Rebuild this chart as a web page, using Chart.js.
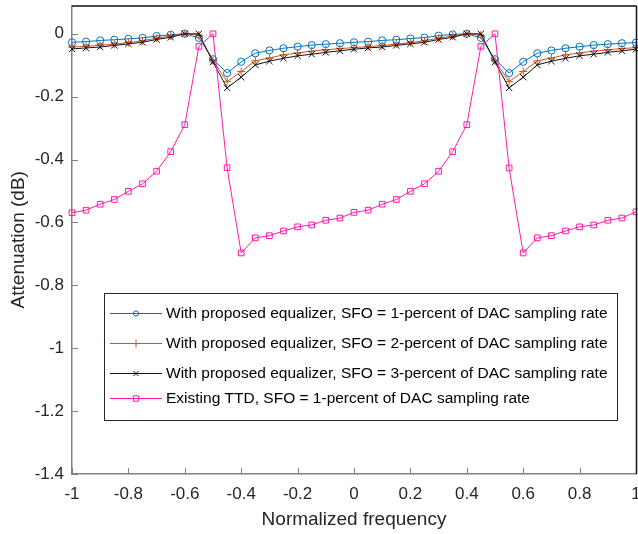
<!DOCTYPE html>
<html>
<head>
<meta charset="utf-8">
<script src="https://cdn.jsdelivr.net/npm/chart.js@4.4.0/dist/chart.umd.min.js"></script>
<style>
  html, body { margin: 0; padding: 0; background: #fff; overflow: hidden; }
  #wrap { width: 638px; height: 534px; overflow: hidden; }
  canvas { display: block; }
</style>
</head>
<body>
<div id="wrap"><canvas id="AttenuationChart" width="660" height="534"></canvas></div>
<script>
// normalized frequency, -1 .. 1 in steps of 0.05
const freq = [-1, -0.95, -0.9, -0.85, -0.8, -0.75, -0.7, -0.65, -0.6, -0.55, -0.5,
  -0.45, -0.4, -0.35, -0.3, -0.25, -0.2, -0.15, -0.1, -0.05, 0,
  0.05, 0.1, 0.15, 0.2, 0.25, 0.3, 0.35, 0.4, 0.45, 0.5,
  0.55, 0.6, 0.65, 0.7, 0.75, 0.8, 0.85, 0.9, 0.95, 1];

const sfo1 = [-0.027, -0.025, -0.021, -0.019, -0.016, -0.013, -0.007, -0.003, 0.000, -0.013, -0.081,
  -0.125, -0.089, -0.062, -0.053, -0.046, -0.041, -0.036, -0.033, -0.030, -0.027,
  -0.025, -0.021, -0.019, -0.015, -0.012, -0.006, -0.002, 0.000, -0.013, -0.081,
  -0.125, -0.089, -0.062, -0.053, -0.046, -0.041, -0.036, -0.033, -0.030, -0.028];

const sfo2 = [-0.042, -0.040, -0.036, -0.033, -0.028, -0.022, -0.014, -0.007, 0.000, -0.004, -0.086,
  -0.152, -0.120, -0.086, -0.077, -0.067, -0.061, -0.055, -0.051, -0.047, -0.044,
  -0.041, -0.037, -0.033, -0.028, -0.022, -0.014, -0.007, 0.000, -0.004, -0.086,
  -0.152, -0.120, -0.086, -0.077, -0.067, -0.061, -0.055, -0.051, -0.047, -0.044];

const sfo3 = [-0.048, -0.045, -0.042, -0.037, -0.032, -0.027, -0.018, -0.011, 0.000, 0.000, -0.090,
  -0.172, -0.138, -0.099, -0.087, -0.078, -0.070, -0.065, -0.059, -0.054, -0.049,
  -0.045, -0.042, -0.037, -0.032, -0.027, -0.018, -0.011, 0.000, 0.000, -0.090,
  -0.172, -0.138, -0.099, -0.087, -0.078, -0.070, -0.065, -0.059, -0.054, -0.049];

const ttd = [-0.569, -0.561, -0.542, -0.527, -0.501, -0.477, -0.437, -0.375, -0.289, -0.040, 0.000,
  -0.426, -0.697, -0.649, -0.642, -0.627, -0.614, -0.608, -0.593, -0.586, -0.568,
  -0.561, -0.542, -0.527, -0.501, -0.477, -0.437, -0.375, -0.289, -0.040, 0.000,
  -0.427, -0.697, -0.649, -0.642, -0.627, -0.614, -0.608, -0.593, -0.586, -0.566];

const seriesNames = [
  'With proposed equalizer, SFO = 1-percent of DAC sampling rate',
  'With proposed equalizer, SFO = 2-percent of DAC sampling rate',
  'With proposed equalizer, SFO = 3-percent of DAC sampling rate',
  'Existing TTD, SFO = 1-percent of DAC sampling rate',
];

const xTicks = [-1, -0.8, -0.6, -0.4, -0.2, 0, 0.2, 0.4, 0.6, 0.8, 1];
const xTickLabels = ['-1', '-0.8', '-0.6', '-0.4', '-0.2', '0', '0.2', '0.4', '0.6', '0.8', '1'];
const yTicks = [-1.4, -1.2, -1, -0.8, -0.6, -0.4, -0.2, 0];
const yTickLabels = ['-1.4', '-1.2', '-1', '-0.8', '-0.6', '-0.4', '-0.2', '0'];

const FONT = '"Liberation Sans", Arial, Helvetica, sans-serif';
const AXIS_GRAY = '#808080';

const toPoints = (ys) => freq.map((x, i) => ({ x: x, y: ys[i] }));

function drawMarker(ctx, style, x, y, r) {
  ctx.beginPath();
  if (style === 'circle') {
    ctx.arc(x, y, r, 0, Math.PI * 2);
  } else if (style === 'cross') {
    ctx.moveTo(x - r, y); ctx.lineTo(x + r, y);
    ctx.moveTo(x, y - r); ctx.lineTo(x, y + r);
  } else if (style === 'crossRot') {
    ctx.moveTo(x - r, y - r); ctx.lineTo(x + r, y + r);
    ctx.moveTo(x - r, y + r); ctx.lineTo(x + r, y - r);
  } else if (style === 'rect') {
    ctx.rect(x - r, y - r, 2 * r, 2 * r);
  }
  ctx.stroke();
}

// matlab-ish frame: inward ticks, black top/right box, legend inside the axes
const matlabFrame = {
  id: 'matlabFrame',
  afterDraw(chart) {
    const ctx = chart.ctx;
    const { left, right, top, bottom } = chart.chartArea;
    const xs = chart.scales.x;
    const ys = chart.scales.y;

    ctx.save();
    ctx.strokeStyle = AXIS_GRAY;
    ctx.lineWidth = 1;
    xTicks.forEach((v) => {
      const px = Math.round(xs.getPixelForValue(v)) + 0.5;
      ctx.beginPath();
      ctx.moveTo(px, bottom);
      ctx.lineTo(px, bottom - 6);
      ctx.stroke();
    });
    yTicks.forEach((v) => {
      const py = Math.round(ys.getPixelForValue(v)) + 0.5;
      ctx.beginPath();
      ctx.moveTo(left, py);
      ctx.lineTo(left + 6, py);
      ctx.stroke();
    });

    ctx.strokeStyle = '#111';
    ctx.lineWidth = 1.5;
    ctx.beginPath();
    ctx.moveTo(left, top + 0.5);
    ctx.lineTo(right, top + 0.5);
    ctx.moveTo(right + 0.5, top);
    ctx.lineTo(right + 0.5, bottom);
    ctx.stroke();

    // legend
    const box = { x: 104.5, y: 293.5, w: 513, h: 127 };
    const rows = [313, 343, 373, 398];
    ctx.fillStyle = '#fff';
    ctx.fillRect(box.x, box.y, box.w, box.h);
    ctx.strokeStyle = '#262626';
    ctx.lineWidth = 1;
    ctx.strokeRect(box.x, box.y, box.w, box.h);

    ctx.font = '15.5px ' + FONT;
    ctx.textBaseline = 'middle';
    ctx.textAlign = 'left';
    chart.data.datasets.forEach((ds, i) => {
      const y = rows[i] + 0.5;
      ctx.strokeStyle = ds.borderColor;
      ctx.lineWidth = 1;
      ctx.beginPath();
      ctx.moveTo(110, y);
      ctx.lineTo(162, y);
      ctx.stroke();
      drawMarker(ctx, ds.pointStyle, 136, y, ds.legendMarker);
      ctx.fillStyle = '#000';
      ctx.fillText(ds.label, 166, y);
    });
    ctx.restore();
  },
};

new Chart(document.getElementById('AttenuationChart').getContext('2d'), {
  type: 'line',
  data: {
    datasets: [
      {
        label: seriesNames[0],
        data: toPoints(sfo1),
        borderColor: '#0072bd',
        pointStyle: 'circle',
        pointRadius: 3.6,
        legendMarker: 2.6,
        order: 3,
      },
      {
        label: seriesNames[1],
        data: toPoints(sfo2),
        borderColor: '#d95319',
        pointStyle: 'cross',
        pointRadius: 4,
        legendMarker: 4,
        order: 2,
      },
      {
        label: seriesNames[2],
        data: toPoints(sfo3),
        borderColor: '#111111',
        pointStyle: 'crossRot',
        pointRadius: 4.5,
        legendMarker: 2.5,
        order: 1,
      },
      {
        label: seriesNames[3],
        data: toPoints(ttd),
        borderColor: '#ff1aab',
        pointStyle: 'rect',
        pointRadius: 4,
        legendMarker: 2.7,
        order: 0,
      },
    ].map((ds) => ({
      ...ds,
      backgroundColor: 'rgba(0,0,0,0)',
      pointBackgroundColor: 'rgba(0,0,0,0)',
      pointBorderColor: ds.borderColor,
      borderWidth: 1,
      pointBorderWidth: 1,
      tension: 0,
      clip: false,
    })),
  },
  options: {
    responsive: false,
    animation: false,
    devicePixelRatio: 1,
    layout: {
      padding: { top: 5, right: 24, bottom: 0, left: 0 },
    },
    plugins: {
      legend: { display: false },
      tooltip: { enabled: false },
    },
    scales: {
      x: {
        type: 'linear',
        min: -1,
        max: 1,
        afterBuildTicks: (axis) => {
          axis.ticks = xTicks.map((v) => ({ value: v }));
        },
        afterFit: (axis) => {
          axis.height = 60;
          axis.paddingLeft = 0;
          axis.paddingRight = 0;
        },
        grid: { display: false, drawTicks: false },
        border: { color: AXIS_GRAY, width: 1.5 },
        ticks: {
          autoSkip: false,
          maxRotation: 0,
          padding: 10,
          color: '#262626',
          font: { family: FONT, size: 17 },
          callback: (value, index) => xTickLabels[index],
        },
        title: {
          display: true,
          text: 'Normalized frequency',
          color: '#262626',
          font: { family: FONT, size: 19 },
          padding: { top: 0, bottom: 3 },
        },
      },
      y: {
        type: 'linear',
        min: -1.4,
        max: 0.09,
        afterBuildTicks: (axis) => {
          axis.ticks = yTicks.map((v) => ({ value: v }));
        },
        afterFit: (axis) => {
          axis.width = 72;
          axis.paddingTop = 0;
          axis.paddingBottom = 0;
        },
        grid: { display: false, drawTicks: false },
        border: { color: AXIS_GRAY, width: 1.5 },
        ticks: {
          padding: 8,
          color: '#262626',
          font: { family: FONT, size: 17 },
          callback: (value, index) => yTickLabels[index],
        },
        title: {
          display: true,
          text: 'Attenuation (dB)',
          color: '#262626',
          font: { family: FONT, size: 19 },
          padding: { top: 7, bottom: 0 },
        },
      },
    },
  },
  plugins: [matlabFrame],
});
</script>
</body>
</html>
